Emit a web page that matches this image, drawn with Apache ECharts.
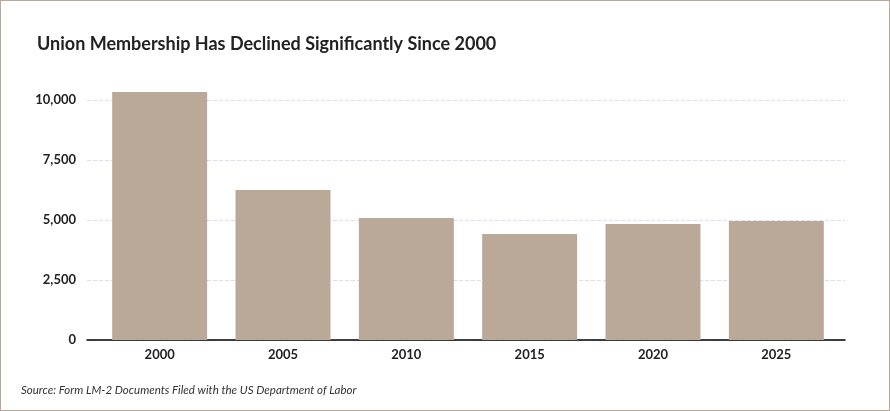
<!DOCTYPE html>
<html>
<head>
<meta charset="utf-8">
<script src="https://cdn.jsdelivr.net/npm/echarts@6/dist/echarts.min.js"></script>
<style>
  html, body { margin: 0; padding: 0; background: #fff; }
  #main { width: 888px; height: 409px; border: 1px solid #b9a898; }
</style>
</head>
<body>
<div id="main"></div>
<script>
// values
const years = ['2000', '2005', '2010', '2015', '2020', '2025'];
const members = [10330, 6250, 5080, 4420, 4830, 4960];
const yTicks = [0, 2500, 5000, 7500, 10000];

const font = 'Lato, "Noto Sans", sans-serif';
const labelStyle = { fontFamily: font, fontSize: 13, fontWeight: 'bold', color: '#222' };

let myChart = echarts.init(document.getElementById('main'));
let option = {
    animation: false,
    title: [{
        text: 'Union Membership Has Declined Significantly Since 2000',
        left: 31,
        top: 29,
        textStyle: { fontFamily: font, fontSize: 18, fontWeight: 'bold', color: '#222' }
    }, {
        text: 'Source: Form LM-2 Documents Filed with the US Department of Labor',
        left: 15,
        top: 378,
        textStyle: { fontFamily: font, fontSize: 11.5, fontStyle: 'italic', fontWeight: 'normal', color: '#333' }
    }],
    // grid 0 carries the gridlines and axis line, grid 1 the bars
    grid: [
        { left: 86, right: 44, top: 99, bottom: 70 },
        { left: 97, right: 51, top: 99, bottom: 70 }
    ],
    xAxis: [{
        type: 'category',
        gridIndex: 0,
        data: years,
        axisTick: { show: false },
        axisLabel: { show: false },
        axisLine: { lineStyle: { color: '#000', width: 1.5 } }
    }, {
        type: 'category',
        gridIndex: 1,
        data: years,
        axisTick: { show: false },
        axisLine: { show: false },
        axisLabel: Object.assign({ margin: 8 }, labelStyle)
    }],
    yAxis: [{
        type: 'value',
        gridIndex: 0,
        min: 0,
        max: 10000,
        interval: 2500,
        axisLine: { show: false },
        axisTick: { show: false },
        axisLabel: Object.assign({
            margin: 11,
            formatter: v => yTicks.includes(v) ? v.toLocaleString('en-US') : ''
        }, labelStyle),
        splitLine: { lineStyle: { color: '#d9e0ec', type: 'dashed' } }
    }, {
        type: 'value',
        gridIndex: 1,
        min: 0,
        max: 10000,
        interval: 2500,
        show: false,
        splitLine: { show: false }
    }],
    series: [{
        type: 'bar',
        xAxisIndex: 1,
        yAxisIndex: 1,
        data: members,
        barWidth: '77%',
        clip: false,
        z: 1,
        itemStyle: { color: '#baa899' }
    }]
};
myChart.setOption(option);
</script>
</body>
</html>
